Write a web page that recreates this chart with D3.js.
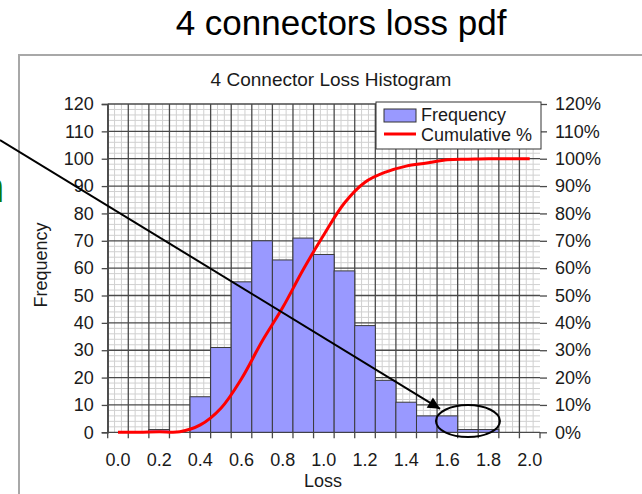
<!DOCTYPE html>
<meta charset="utf-8">
<script src="https://cdn.jsdelivr.net/npm/d3@7"></script>
<style>
body { margin: 0; background: #fff; }
text { font-family: "Liberation Sans", Arial, sans-serif; fill: #1a1a1a; }
.major { stroke: #4a4a4a; stroke-width: 1.3px; }
.minor { stroke: #d0d0d0; stroke-width: 1px; }
</style>
<body>
<script>

// histogram bins (Loss), counts
var bins = ["0.0","0.1","0.2","0.3","0.4","0.5","0.6","0.7","0.8","0.9","1.0",
            "1.1","1.2","1.3","1.4","1.5","1.6","1.7","1.8","1.9","2.0"];
var frequency = [0,0,1,0,13,31,55,70,63,71,65,59,39,19,11,6,6,1,1,0,0];
var cumulative = [0,0,0.002,0.002,0.027,0.088,0.196,0.333,0.456,0.595,0.722,
                  0.838,0.914,0.951,0.973,0.984,0.996,0.998,1,1,1];
var xLabels = ["0.0","0.2","0.4","0.6","0.8","1.0","1.2","1.4","1.6","1.8","2.0"];
var leftTicks = [0,10,20,30,40,50,60,70,80,90,100,110,120];
var rightTicks = [0,0.1,0.2,0.3,0.4,0.5,0.6,0.7,0.8,0.9,1.0,1.1,1.2];

var width = 642, height = 494;
var plotL = 107.7, plotR = 540, plotT = 104, plotB = 432.3;

var svg = d3.select("body").append("svg")
    .attr("width", width)
    .attr("height", height);

var x = d3.scaleBand().domain(bins).range([plotL, plotR]).padding(0);
var y = d3.scaleLinear().domain([0, 120]).range([plotB, plotT]);
var y2 = d3.scaleLinear().domain([0, 1.2]).range([plotB, plotT]);
var bw = x.bandwidth();

// slide title
svg.append("text")
    .attr("x", 341).attr("y", 35)
    .attr("text-anchor", "middle")
    .style("font-size", "35px")
    .style("fill", "#000")
    .text("4 connectors loss pdf");

// chart frame (runs off the picture)
svg.append("rect")
    .attr("x", 19).attr("y", 55)
    .attr("width", 700).attr("height", 500)
    .style("fill", "#fff")
    .style("stroke", "#a8a8a8")
    .style("stroke-width", 2);

// cut-off green text at the left edge
svg.append("text")
    .attr("x", -19).attr("y", 202)
    .style("font-size", "42px")
    .style("fill", "#0b7a0b")
    .text("n");

svg.append("text")
    .attr("x", 331).attr("y", 86)
    .attr("text-anchor", "middle")
    .style("font-size", "19px")
    .text("4 Connector Loss Histogram");

// grid
var grid = svg.append("g");
var minorY = d3.range(0, 121, 2).filter(function(v) { return v % 10 != 0; });
grid.selectAll(".hmin").data(minorY).enter().append("line")
    .attr("class", "minor")
    .attr("x1", plotL).attr("x2", plotR)
    .attr("y1", function(d) { return y(d); }).attr("y2", function(d) { return y(d); });
var minorX = [];
bins.forEach(function(b) { minorX.push(x(b) + bw / 3, x(b) + 2 * bw / 3); });
grid.selectAll(".vmin").data(minorX).enter().append("line")
    .attr("class", "minor")
    .attr("x1", function(d) { return d; }).attr("x2", function(d) { return d; })
    .attr("y1", plotT).attr("y2", plotB);
grid.selectAll(".hmaj").data(leftTicks).enter().append("line")
    .attr("class", "major")
    .attr("x1", plotL).attr("x2", plotR)
    .attr("y1", function(d) { return y(d); }).attr("y2", function(d) { return y(d); });
grid.selectAll(".vmaj").data(bins).enter().append("line")
    .attr("class", "major")
    .attr("x1", function(d) { return x(d); }).attr("x2", function(d) { return x(d); })
    .attr("y1", plotT).attr("y2", plotB);

// bars
svg.append("g").selectAll("rect")
    .data(frequency.map(function(v, i) { return {bin: bins[i], v: v}; }).filter(function(d) { return d.v > 0; }))
    .enter().append("rect")
    .attr("x", function(d) { return x(d.bin); })
    .attr("y", function(d) { return y(d.v); })
    .attr("width", bw)
    .attr("height", function(d) { return plotB - y(d.v); })
    .style("fill", "#9999ff")
    .style("stroke", "#3a3a3a")
    .style("stroke-width", 1);

// axes
var yAxisL = d3.axisLeft(y).tickValues(leftTicks).tickSize(6).tickPadding(8);
var gl = svg.append("g").attr("transform", "translate(" + plotL + ",0)").call(yAxisL);
var yAxisR = d3.axisRight(y2).tickValues(rightTicks).tickSize(7).tickPadding(8)
    .tickFormat(d3.format(".0%"));
var gr = svg.append("g").attr("transform", "translate(" + plotR + ",0)").call(yAxisR);
var xAxis = d3.axisBottom(x).tickSize(0).tickPadding(21)
    .tickFormat(function(d) { return xLabels.indexOf(d) >= 0 ? d : ""; });
var gx = svg.append("g").attr("transform", "translate(0," + plotB + ")").call(xAxis);
gx.selectAll(".xt").data(bins.concat(["end"])).enter().append("line")
    .attr("x1", function(d) { return d == "end" ? plotR : x(d); })
    .attr("x2", function(d) { return d == "end" ? plotR : x(d); })
    .attr("y1", 0).attr("y2", 6)
    .style("stroke", "#4a4a4a").style("stroke-width", 1.3);

[gl, gr, gx].forEach(function(g) {
  g.select(".domain").style("stroke", "#4a4a4a").style("stroke-width", 1.5);
  g.selectAll(".tick line").style("stroke", "#4a4a4a").style("stroke-width", 1.3);
  g.selectAll(".tick text").style("font-size", "18px").style("font-family", "Liberation Sans, Arial, sans-serif").style("fill", "#1a1a1a");
});
gr.select(".domain").remove();
gx.select(".domain").remove();

// cumulative line
var line = d3.line()
    .x(function(d, i) { return x(bins[i]) + bw / 2; })
    .y(function(d) { return y2(d); })
    .curve(d3.curveCatmullRom.alpha(0.5));
svg.append("path")
    .datum(cumulative)
    .attr("d", line)
    .style("fill", "none")
    .style("stroke", "#ff0000")
    .style("stroke-width", 3);

// axis titles
svg.append("text")
    .attr("transform", "translate(47,265) rotate(-90)")
    .attr("text-anchor", "middle")
    .style("font-size", "18px")
    .text("Frequency");
svg.append("text")
    .attr("x", 323).attr("y", 487)
    .attr("text-anchor", "middle")
    .style("font-size", "18px")
    .text("Loss");

// legend
var lg = svg.append("g").attr("transform", "translate(376,102)");
lg.append("rect").attr("width", 165).attr("height", 47)
    .style("fill", "#fff").style("stroke", "#333").style("stroke-width", 1);
lg.append("rect").attr("x", 8).attr("y", 7).attr("width", 32).attr("height", 13)
    .style("fill", "#9999ff").style("stroke", "#333");
lg.append("line").attr("x1", 8).attr("x2", 40).attr("y1", 32).attr("y2", 32)
    .style("stroke", "#ff0000").style("stroke-width", 3);
lg.append("text").attr("x", 45).attr("y", 19).style("font-size", "18px").text("Frequency");
lg.append("text").attr("x", 45).attr("y", 39).style("font-size", "18px").text("Cumulative %");

// annotation: arrow and ellipse
svg.append("defs").append("marker")
    .attr("id", "head")
    .attr("viewBox", "0 0 10 10")
    .attr("refX", 10).attr("refY", 5)
    .attr("markerWidth", 7).attr("markerHeight", 6)
    .attr("markerUnits", "strokeWidth")
    .attr("orient", "auto")
    .append("path").attr("d", "M0,0L10,5L0,10Z").style("fill", "#000");
svg.append("line")
    .attr("x1", 0).attr("y1", 140)
    .attr("x2", x("1.6") + 3).attr("y2", y(8.6))
    .style("stroke", "#000").style("stroke-width", 2)
    .attr("marker-end", "url(#head)");
svg.append("ellipse")
    .attr("cx", x("1.7") + bw / 2).attr("cy", y(4.1))
    .attr("rx", 32).attr("ry", 16)
    .style("fill", "none")
    .style("stroke", "#000")
    .style("stroke-width", 2);

</script>
</body>
